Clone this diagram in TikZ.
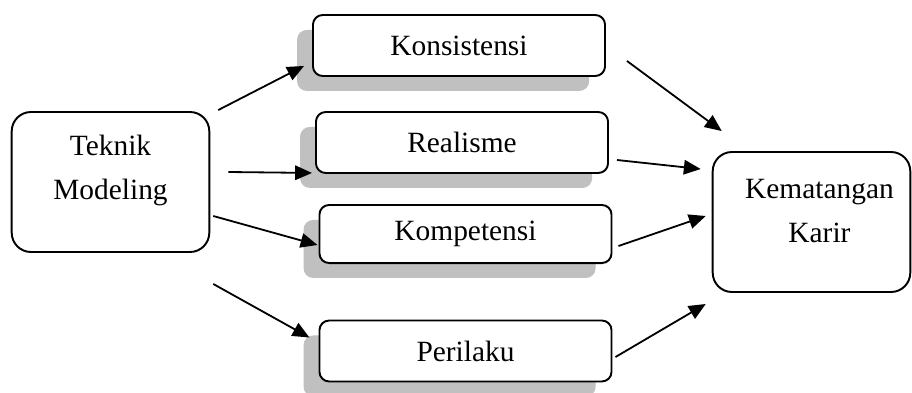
\documentclass[tikz,border=0pt]{standalone}
\usepackage{fontspec}
\setmainfont{Liberation Serif}
\usetikzlibrary{shapes,arrows.meta,shadows,positioning}
\definecolor{shadowgrey}{RGB}{192,192,192}

\tikzset{
  px/.style={x=0.415pt,y=-0.415pt},
  txt/.style={font=\fontsize{12.2}{18.3}\selectfont},
  box/.style={draw,txt,rounded corners=4pt,line width=0.8pt,fill=white,minimum width=121.2pt,minimum height=25.3pt},
  shadowbox/.style={box,general shadow={fill=shadowgrey,shadow xshift=-6.6pt,shadow yshift=-6.2pt}},
  bigbox/.style={draw,rounded corners=8pt,line width=0.8pt,fill=white,minimum width=82pt,minimum height=58.1pt},
  bigtext/.style={txt,align=center,yshift=4.6pt},
  arr/.style={line width=0.75pt,-{Triangle[length=7pt,width=6pt]}},
}

\begin{document}
\begin{tikzpicture}[px]

    \useasboundingbox (0,0) rectangle (912,392);

    \node[bigbox, label={[bigtext]center:Teknik\\Modeling}] (teknik) at (110.5,182) {};
    \node[bigbox, label={[bigtext,xshift=3.3pt]center:Kematangan\\Karir}] (karir) at (811.5,222) {};

    \node[shadowbox] (konsistensi) at (459,45.5) {Konsistensi};
    \node[shadowbox] (realisme) at (462,142.5) {Realisme};
    \node[shadowbox, minimum height=24.1pt] (kompetensi) at (465.5,234) {Kompetensi};
    \node[shadowbox] (perilaku) at (465.5,351) {Perilaku};

    % dari teknik modeling
    \draw[arr] ([shift={(8,-1)}]teknik.north east) -- ([shift={(-8,-11)}]konsistensi.south west);
    \draw[arr] ([shift={(18,-10)}]teknik.east) -- ([shift={(-3,-1)}]realisme.south west);
    \draw[arr] ([shift={(3,34)}]teknik.east) -- ([shift={(-1,11)}]kompetensi.west);
    \draw[arr] ([shift={(3,31)}]teknik.south east) -- ([shift={(-9,18)}]perilaku.north west);

    % ke kematangan karir
    \draw[arr] ([shift={(21,15.5)}]konsistensi.east) -- ([shift={(10,-20)}]karir.north west);
    \draw[arr] ([shift={(8,17.5)}]realisme.east) -- ([shift={(-11,18)}]karir.north west);
    \draw[arr] ([shift={(6,12)}]kompetensi.east) -- ([shift={(-6,-6)}]karir.west);
    \draw[arr] ([shift={(3,6)}]perilaku.east) -- ([shift={(-6,11)}]karir.south west);

\end{tikzpicture}
\end{document}
